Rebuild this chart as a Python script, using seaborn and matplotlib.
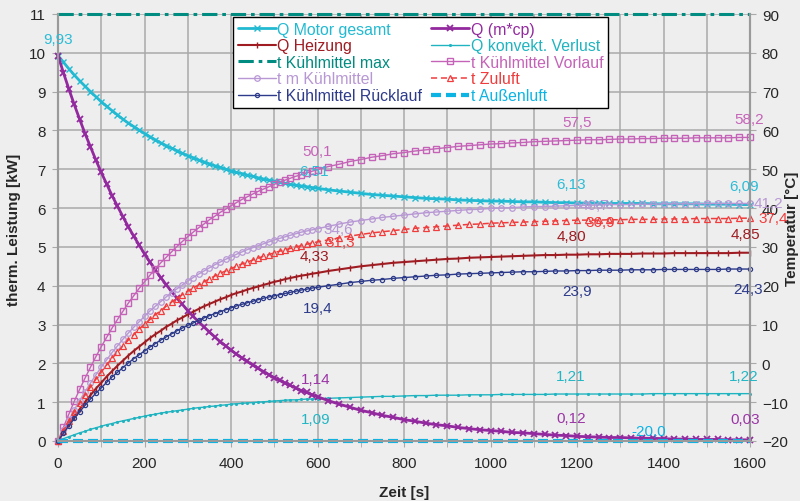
import numpy as np
import pandas as pd
import matplotlib
matplotlib.use('Agg')
import matplotlib.pyplot as plt
import seaborn as sns
from matplotlib.ticker import MultipleLocator

sns.set_style('whitegrid')
plt.rcParams['font.family'] = ['Liberation Sans', 'DejaVu Sans']
plt.rcParams['font.size'] = 11

# Zeitachse [s]
zeit_s = [0, 12.5, 25, 37.5, 50, 62.5, 75, 87.5, 100, 112.5, 125, 137.5, 150, 162.5, 175, 187.5,
          200, 212.5, 225, 237.5, 250, 262.5, 275, 287.5, 300, 312.5, 325, 337.5, 350, 362.5, 375,
          387.5, 400, 412.5, 425, 437.5, 450, 462.5, 475, 487.5, 500, 512.5, 525, 537.5, 550, 562.5,
          575, 587.5, 600,
          625, 650, 675, 700, 725, 750, 775, 800, 825, 850, 875, 900, 925, 950, 975, 1000, 1025,
          1050, 1075, 1100, 1125, 1150, 1175, 1200, 1225, 1250, 1275, 1300, 1325, 1350, 1375, 1400,
          1425, 1450, 1475, 1500, 1525, 1550, 1575, 1600]

# Leistungen [kW]
q_motor = [9.93, 9.76, 9.59, 9.43, 9.28, 9.14, 9.00, 8.87, 8.74, 8.62, 8.51, 8.40, 8.29, 8.19, 8.10, 8.01,
           7.92, 7.84, 7.76, 7.68, 7.61, 7.54, 7.48, 7.41, 7.35, 7.30, 7.24, 7.19, 7.14, 7.09, 7.05,
           7.00, 6.96, 6.92, 6.89, 6.85, 6.82, 6.78, 6.75, 6.72, 6.69, 6.67, 6.64, 6.61, 6.59, 6.57,
           6.55, 6.53, 6.51,
           6.47, 6.44, 6.41, 6.38, 6.35, 6.33, 6.31, 6.29, 6.27, 6.25, 6.24, 6.23, 6.21, 6.20, 6.19,
           6.18, 6.18, 6.17, 6.16, 6.16, 6.15, 6.14, 6.14, 6.13, 6.13, 6.13, 6.12, 6.12, 6.12, 6.12,
           6.11, 6.11, 6.11, 6.11, 6.11, 6.10, 6.10, 6.10, 6.09, 6.09]
q_mcp = [9.93, 9.49, 9.07, 8.67, 8.29, 7.92, 7.58, 7.24, 6.92, 6.62, 6.32, 6.05, 5.78, 5.52, 5.28, 5.05,
         4.82, 4.61, 4.41, 4.21, 4.03, 3.85, 3.68, 3.52, 3.36, 3.21, 3.07, 2.94, 2.81, 2.68, 2.56,
         2.45, 2.34, 2.24, 2.14, 2.05, 1.96, 1.87, 1.79, 1.71, 1.63, 1.56, 1.49, 1.43, 1.36, 1.30,
         1.25, 1.19, 1.14,
         1.04, 0.95, 0.87, 0.79, 0.73, 0.66, 0.61, 0.55, 0.51, 0.46, 0.42, 0.39, 0.35, 0.32, 0.29,
         0.27, 0.25, 0.22, 0.21, 0.19, 0.17, 0.15, 0.14, 0.12, 0.11, 0.10, 0.09, 0.09, 0.08, 0.07,
         0.07, 0.06, 0.05, 0.05, 0.04, 0.04, 0.04, 0.03, 0.03, 0.03]
q_heizung = [0.00, 0.22, 0.43, 0.63, 0.82, 1.00, 1.18, 1.35, 1.50, 1.66, 1.80, 1.94, 2.07, 2.20, 2.32, 2.43,
             2.54, 2.65, 2.75, 2.84, 2.94, 3.02, 3.11, 3.18, 3.26, 3.33, 3.40, 3.47, 3.53, 3.59, 3.65,
             3.70, 3.76, 3.81, 3.85, 3.90, 3.94, 3.98, 4.02, 4.06, 4.10, 4.13, 4.17, 4.20, 4.23, 4.26,
             4.28, 4.31, 4.33,
             4.38, 4.42, 4.46, 4.50, 4.53, 4.56, 4.59, 4.61, 4.63, 4.65, 4.67, 4.69, 4.70, 4.72, 4.73,
             4.74, 4.75, 4.76, 4.77, 4.78, 4.79, 4.79, 4.80, 4.80, 4.81, 4.81, 4.82, 4.82, 4.82, 4.83,
             4.83, 4.83, 4.84, 4.84, 4.84, 4.84, 4.84, 4.84, 4.85, 4.85]
q_konvekt = [0.00, 0.06, 0.11, 0.16, 0.21, 0.25, 0.30, 0.34, 0.38, 0.42, 0.45, 0.49, 0.52, 0.55, 0.58, 0.61,
             0.64, 0.67, 0.69, 0.72, 0.74, 0.76, 0.78, 0.80, 0.82, 0.84, 0.86, 0.87, 0.89, 0.90, 0.92,
             0.93, 0.95, 0.96, 0.97, 0.98, 0.99, 1.00, 1.01, 1.02, 1.03, 1.04, 1.05, 1.06, 1.06, 1.07,
             1.08, 1.08, 1.09,
             1.10, 1.11, 1.12, 1.13, 1.14, 1.15, 1.15, 1.16, 1.17, 1.17, 1.18, 1.18, 1.18, 1.19, 1.19,
             1.19, 1.20, 1.20, 1.20, 1.20, 1.20, 1.21, 1.21, 1.21, 1.21, 1.21, 1.21, 1.21, 1.21, 1.21,
             1.22, 1.22, 1.22, 1.22, 1.22, 1.22, 1.22, 1.22, 1.22, 1.22]

# Temperaturen [°C]
t_vorlauf = [-20.0, -16.5, -13.1, -9.8, -6.7, -3.8, -1.0, 1.7, 4.3, 6.7, 9.1, 11.3, 13.4, 15.5, 17.4, 19.3,
             21.0, 22.7, 24.3, 25.9, 27.3, 28.7, 30.1, 31.4, 32.6, 33.8, 34.9, 35.9, 37.0, 37.9, 38.9,
             39.7, 40.6, 41.4, 42.2, 42.9, 43.6, 44.3, 44.9, 45.5, 46.1, 46.7, 47.2, 47.7, 48.2, 48.6,
             49.1, 49.5, 49.9,
             50.7, 51.3, 52.0, 52.5, 53.1, 53.5, 54.0, 54.3, 54.7, 55.0, 55.3, 55.6, 55.9, 56.1, 56.3,
             56.5, 56.6, 56.8, 56.9, 57.1, 57.2, 57.3, 57.4, 57.5, 57.6, 57.6, 57.7, 57.8, 57.8, 57.9,
             57.9, 58.0, 58.0, 58.0, 58.1, 58.1, 58.1, 58.1, 58.2, 58.2]
t_m_kuehl = [-20.0, -17.2, -14.6, -12.0, -9.6, -7.3, -5.1, -3.0, -1.0, 0.9, 2.8, 4.5, 6.2, 7.8, 9.3, 10.7,
             12.1, 13.5, 14.7, 15.9, 17.1, 18.2, 19.2, 20.2, 21.2, 22.1, 23.0, 23.8, 24.6, 25.4, 26.1,
             26.8, 27.4, 28.1, 28.7, 29.3, 29.8, 30.3, 30.8, 31.3, 31.8, 32.2, 32.6, 33.0, 33.4, 33.8,
             34.1, 34.4, 34.7,
             35.3, 35.9, 36.4, 36.8, 37.2, 37.6, 37.9, 38.2, 38.5, 38.8, 39.0, 39.2, 39.4, 39.6, 39.7,
             39.9, 40.0, 40.1, 40.3, 40.4, 40.4, 40.5, 40.6, 40.7, 40.7, 40.8, 40.9, 40.9, 40.9, 41.0,
             41.0, 41.1, 41.1, 41.1, 41.1, 41.2, 41.2, 41.2, 41.2, 41.2]
t_zuluft = [-20.0, -17.4, -14.9, -12.5, -10.3, -8.1, -6.1, -4.1, -2.2, -0.4, 1.3, 2.9, 4.5, 6.0, 7.4, 8.8,
            10.1, 11.3, 12.5, 13.6, 14.7, 15.8, 16.7, 17.7, 18.6, 19.4, 20.2, 21.0, 21.8, 22.5, 23.2,
            23.8, 24.4, 25.0, 25.6, 26.1, 26.6, 27.1, 27.6, 28.0, 28.5, 28.9, 29.3, 29.6, 30.0, 30.3,
            30.7, 31.0, 31.3,
            31.8, 32.3, 32.8, 33.2, 33.6, 33.9, 34.2, 34.5, 34.8, 35.0, 35.2, 35.4, 35.6, 35.8, 35.9,
            36.1, 36.2, 36.3, 36.4, 36.5, 36.6, 36.7, 36.8, 36.9, 36.9, 36.9, 37.0, 37.0, 37.1, 37.1,
            37.1, 37.2, 37.2, 37.2, 37.3, 37.3, 37.3, 37.3, 37.4, 37.4]
t_ruecklauf = [-20.0, -18.0, -16.1, -14.2, -12.5, -10.8, -9.2, -7.7, -6.3, -4.9, -3.5, -2.3, -1.1, 0.1, 1.2, 2.2,
               3.2, 4.2, 5.1, 6.0, 6.8, 7.6, 8.4, 9.1, 9.8, 10.4, 11.1, 11.7, 12.3, 12.8, 13.3,
               13.8, 14.3, 14.8, 15.2, 15.6, 16.0, 16.4, 16.8, 17.1, 17.4, 17.7, 18.0, 18.3, 18.6, 18.9,
               19.1, 19.4, 19.6,
               20.0, 20.4, 20.8, 21.1, 21.4, 21.6, 21.9, 22.1, 22.3, 22.5, 22.7, 22.8, 23.0, 23.1, 23.2,
               23.3, 23.4, 23.5, 23.6, 23.6, 23.7, 23.8, 23.8, 23.9, 23.9, 24.0, 24.0, 24.0, 24.1, 24.1,
               24.1, 24.2, 24.2, 24.2, 24.2, 24.2, 24.2, 24.3, 24.3, 24.3]
zeit_konst = [0, 1600]
t_kuehl_max = [90, 90]
t_aussen = [-20, -20]

# Datenbeschriftungen (Zeit, Wert)
lbl_motor = [(0, 9.93), (600, 6.51), (1200, 6.13), (1600, 6.09)]
lbl_heizung = [(600, 4.33), (1200, 4.80), (1600, 4.85)]
lbl_konvekt = [(600, 1.09), (1200, 1.21), (1600, 1.22)]
lbl_mcp = [(600, 1.14), (1200, 0.12), (1600, 0.03)]
lbl_vorlauf = [(600, 50.1), (1200, 57.5), (1600, 58.2)]
lbl_m_kuehl = [(600, 34.6), (1200, 40.7), (1600, 41.2)]
lbl_zuluft = [(600, 31.3), (1200, 36.9), (1600, 37.4)]
lbl_ruecklauf = [(600, 19.4), (1200, 23.9), (1600, 24.3)]
lbl_aussen = [(1400, -20.0)]

BG = '#eeeeee'
GRID = '#a9a9a9'
c_motor = '#22bad2'
c_mcp = '#93299e'
c_heiz = '#9e1c22'
c_konv = '#1fb4c0'
c_max = '#008c80'
c_vor = '#c563b8'
c_m = '#b898d4'
c_zu = '#f03c3c'
c_rueck = '#2d3b8a'
c_aussen = '#0cb4e4'

fig = plt.figure(figsize=(8, 5.02), dpi=100, facecolor=BG)
ax = fig.add_axes([58 / 800, 60 / 502, 692 / 800, 427 / 502])
ax.set_facecolor(BG)
ax2 = ax.twinx()


def draw(axis, x, y, color, lw, marker=None, ms=4, mfc='none', mew=1.0, dashes=None, label=''):
    sns.lineplot(x=x, y=y, ax=axis, color=color, linewidth=lw, marker=marker, markersize=ms,
                 mec=color, mfc=mfc, mew=mew, errorbar=None, legend=False, sort=False)
    line = axis.lines[-1]
    if dashes is not None:
        line.set_dashes(dashes)
    line.set_label(label)
    line.set_clip_on(False)
    return line


h_motor = draw(ax, zeit_s, q_motor, c_motor, 2.0, 'x', 4, mew=1.0, label='Q Motor gesamt')
h_heiz = draw(ax, zeit_s, q_heizung, c_heiz, 1.5, '|', 5, mew=1.0, label='Q Heizung')
h_konv = draw(ax, zeit_s, q_konvekt, c_konv, 1.0, '.', 2.5, mfc=c_konv, label='Q konvekt. Verlust')
h_mcp = draw(ax, zeit_s, q_mcp, c_mcp, 2.0, 'x', 4, mew=1.3, label='Q (m*cp)')

h_max = draw(ax2, zeit_konst, t_kuehl_max, c_max, 2.2, dashes=(5, 1.6, 1.2, 1.6), label='t Kühlmittel max')
h_vor = draw(ax2, zeit_s, t_vorlauf, c_vor, 1.0, 's', 4, mew=1.0, label='t Kühlmittel Vorlauf')
h_m = draw(ax2, zeit_s, t_m_kuehl, c_m, 1.0, 'o', 4, mew=0.9, label='t m Kühlmittel')
h_zu = draw(ax2, zeit_s, t_zuluft, c_zu, 1.1, '^', 4, mew=0.9, dashes=(4, 2.5), label='t Zuluft')
h_rueck = draw(ax2, zeit_s, t_ruecklauf, c_rueck, 1.0, 'o', 3, mew=0.9, label='t Kühlmittel Rücklauf')
h_aussen = draw(ax2, zeit_konst, t_aussen, c_aussen, 3.0, dashes=(2.4, 1.2), label='t Außenluft')

# Achsen
ax.set_xlim(0, 1600)
ax.set_ylim(0, 11)
ax2.set_ylim(-20, 90)
ax.set_xticks(range(0, 1601, 200))
ax.xaxis.set_minor_locator(MultipleLocator(100))
ax.set_yticks(range(0, 12))
ax2.set_yticks(range(-20, 91, 10))
ax.set_xlabel('')
ax.set_ylabel('')
ax2.set_ylabel('')

ax.grid(True, which='both', color=GRID, lw=1.1)
ax2.grid(False)
ax.set_axisbelow(True)

ax.tick_params(axis='x', which='both', bottom=True, length=4, color=GRID, pad=7, labelsize=11)
ax.tick_params(axis='y', left=True, length=4, color=GRID, pad=5, labelsize=11)
ax2.tick_params(axis='y', right=True, length=4, color=GRID, pad=4.5, labelsize=11)

for a in (ax, ax2):
    for side in ('left', 'right', 'bottom'):
        a.spines[side].set_color('#9a9a9a')
        a.spines[side].set_linewidth(1.5)
    a.spines['top'].set_visible(False)

fig.text(14 / 800, 1 - 230 / 502, 'therm. Leistung [kW]', rotation=90, ha='center', va='center',
         fontsize=11, fontweight='bold')
fig.text(792 / 800, 1 - 229 / 502, 'Temperatur [°C]', rotation=90, ha='center', va='center',
         fontsize=11, fontweight='bold')
fig.text(404 / 800, 1 - 493 / 502, 'Zeit [s]', ha='center', va='center', fontsize=11, fontweight='bold')


# Datenbeschriftungen
def beschriften(points, color, offsets, digits, src):
    for (t, v), (dx, dy) in zip(points, offsets):
        txt = f'{v:.{digits}f}'.replace('.', ',')
        ax2.annotate(txt, xy=(t, v), xycoords=src.transData, xytext=(dx, dy),
                     textcoords='offset pixels', ha='center', va='center', color=color,
                     fontsize=11, zorder=20, annotation_clip=False)


beschriften(lbl_motor, '#2cbcd6', [(0, 17), (-3, 17), (-6, 19), (-6, 19)], 2, ax)
beschriften(lbl_heizung, c_heiz, [(-3, 17), (-6, 19), (-5, 19)], 2, ax)
beschriften(lbl_konvekt, '#22b6c4', [(-2, -20), (-6, 18), (-6, 18)], 2, ax)
beschriften(lbl_mcp, '#9b35a6', [(-2, 18), (-6, 18), (-5, 21)], 2, ax)
beschriften(lbl_vorlauf, c_vor, [(0, 18), (0, 18), (-1, 18)], 1, ax2)
beschriften(lbl_m_kuehl, c_m, [(21, 0), (17, 0), (18, 0)], 1, ax2)
beschriften(lbl_zuluft, c_zu, [(23, 0), (23, -2), (23, 0)], 1, ax2)
beschriften(lbl_ruecklauf, c_rueck, [(0, -20), (0, -20), (-2, -20)], 1, ax2)
beschriften(lbl_aussen, c_aussen, [(-15, 10)], 1, ax2)

handles = [h_motor, h_heiz, h_max, h_m, h_rueck, h_mcp, h_konv, h_vor, h_zu, h_aussen]
leg = ax2.legend(handles=handles, labels=[h.get_label() for h in handles], ncol=2, loc='upper left',
                 bbox_to_anchor=(233 / 800, 1 - 18 / 502), bbox_transform=fig.transFigure,
                 frameon=True, fancybox=False, shadow=False, framealpha=1, facecolor='white',
                 edgecolor='black', borderpad=0.3, labelspacing=0.1, handlelength=2.4,
                 handletextpad=0.1, columnspacing=0.55, borderaxespad=0, fontsize=11.4,
                 labelcolor='linecolor', numpoints=1)
leg.get_frame().set_linewidth(1.0)
leg.set_zorder(30)

fig.savefig('out.png', dpi=100, facecolor=BG)
